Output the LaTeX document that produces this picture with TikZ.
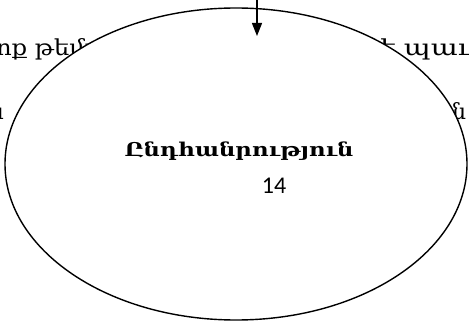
\documentclass[tikz,border=0pt]{standalone}
\usepackage{fontspec}
\setmainfont{DejaVu Serif}
\newfontfamily\numfont{Carlito}
\usetikzlibrary{arrows.meta,shapes.geometric}
\tikzset{
  bgtext/.style={inner sep=0pt, font=\fontsize{22}{22}\selectfont},
  bubble/.style={ellipse, draw, fill=white, line width=1.4pt, minimum width=462pt, minimum height=312pt, inner sep=0pt},
  flow/.style={line width=1.4pt, -{Triangle[length=13pt,width=10pt]}}
}
\begin{document}
\begin{tikzpicture}[x=1pt,y=-1pt]
\useasboundingbox (0,0) rectangle (469,321);
\clip (0,0) rectangle (469,321);
% background text partially hidden
\node[bgtext, anchor=base west] (l1) at (-4,56) {\scalebox{1.1}[1]{ոք թեմաների}};
\node[bgtext, anchor=base east] (r1) at (472,56) {\scalebox{1.3}[1]{է պաւ}};
\node[bgtext, anchor=base east] (l2) at (4,119) {ն};
\node[bgtext, anchor=base west] (r2) at (452,119) {ն};
% ellipse
\node[bubble] (e) at (236,164) {};
\node[inner sep=0pt, font=\bfseries\fontsize{19}{19}\selectfont, anchor=base] (t) at (239,157) {\scalebox{1.2}[1]{Ընդհանրություն}};
\node[inner sep=0pt, font=\numfont\fontsize{24}{24}\selectfont, anchor=base] (n) at (274,193) {14};
% arrow
\coordinate (a0) at (257,-2);
\coordinate (a1) at (257,36);
\draw[flow] (a0) -- (a1);
\end{tikzpicture}
\end{document}
